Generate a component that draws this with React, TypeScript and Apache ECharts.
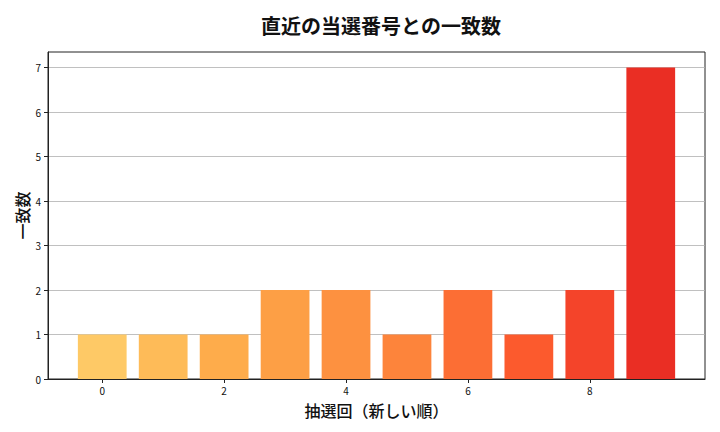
import React, { useEffect, useRef } from "react";
import * as echarts from "echarts";

const xValues = [0, 1, 2, 3, 4, 5, 6, 7, 8, 9];
const matchCounts = [1, 1, 1, 2, 2, 1, 2, 1, 2, 7];
const barColors = [
  "#fec966", "#febb58", "#feac4b", "#fd9f45", "#fd9140",
  "#fd843b", "#fc6e34", "#fc5a2d", "#f4442a", "#ea2e24",
];
const xTickValues = [0, 2, 4, 6, 8];
const yTickValues = [0, 1, 2, 3, 4, 5, 6, 7];

const FONT = "'Noto Sans CJK JP', 'DejaVu Sans', sans-serif";

export default function App() {
  const ref = useRef<HTMLDivElement>(null);
  useEffect(() => {
    if (!ref.current) return;
    const chart = echarts.init(ref.current, null, { renderer: "svg" });
    const data = xValues.map((x, i) => [x, matchCounts[i]]);
    chart.setOption({
      animation: false,
      backgroundColor: "#ffffff",
      title: {
        text: "直近の当選番号との一致数",
        left: 376,
        textAlign: "center",
        top: 10,
        textStyle: { fontFamily: FONT, fontSize: 20, fontWeight: "bold", color: "#111" },
      },
      grid: {
        left: 48,
        right: 15,
        top: 52,
        bottom: 53,
        show: true,
        borderColor: "#222",
        borderWidth: 1,
        backgroundColor: "transparent",
        containLabel: false,
        outerBoundsMode: "none",
      },
      xAxis: {
        type: "value",
        min: -0.89,
        max: 9.89,
        name: "抽選回（新しい順）",
        nameLocation: "middle",
        nameGap: 23,
        nameMoveOverlap: false,
        nameTextStyle: { fontFamily: FONT, fontSize: 16, fontWeight: 500, color: "#111" },
        axisLine: { show: true, onZero: false, lineStyle: { color: "#222", width: 1 } },
        axisTick: { show: true, length: 4, customValues: xTickValues, lineStyle: { color: "#222" } },
        axisLabel: { customValues: xTickValues, fontFamily: FONT, fontSize: 10, color: "#111", margin: 6 },
        splitLine: { show: false },
      },
      yAxis: {
        type: "value",
        min: 0,
        max: 7.35,
        interval: 1,
        name: "一致数",
        nameLocation: "middle",
        nameGap: 18,
        nameMoveOverlap: false,
        nameRotate: 90,
        nameTextStyle: { fontFamily: FONT, fontSize: 16, fontWeight: 500, color: "#111" },
        axisLine: { show: true, onZero: false, lineStyle: { color: "#222", width: 1 } },
        axisTick: { show: true, length: 4, customValues: yTickValues, lineStyle: { color: "#222" } },
        axisLabel: { customValues: yTickValues, fontFamily: FONT, fontSize: 10, color: "#111", margin: 7 },
        splitLine: { show: true, lineStyle: { color: "#b0b0b0", width: 0.8 } },
      },
      series: [
        {
          type: "custom",
          data,
          encode: { x: 0, y: 1 },
          renderItem: (params: any, api: any) => {
            const x = api.value(0);
            const y = api.value(1);
            const p0 = api.coord([x - 0.4, 0]);
            const p1 = api.coord([x + 0.4, y]);
            return {
              type: "rect",
              shape: { x: p0[0], y: p1[1], width: p1[0] - p0[0], height: p0[1] - p1[1] },
              style: { fill: barColors[params.dataIndex] },
            };
          },
        },
      ],
    });
    return () => chart.dispose();
  }, []);
  return <div ref={ref} style={{ width: 720, height: 432, margin: -8 }} />;
}
